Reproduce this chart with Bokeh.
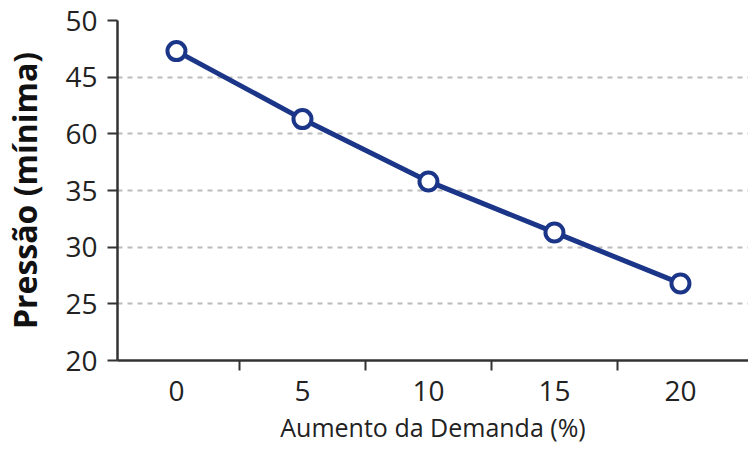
from bokeh.plotting import figure
from bokeh.models import FixedTicker, Range1d
from bokeh.embed import file_html
from bokeh.resources import INLINE

demanda = [0, 5, 10, 15, 20]
pressao = [47.3, 41.3, 35.8, 31.3, 26.8]
y_ticks = [20, 25, 30, 35, 40, 45, 50]
y_labels = {40: "60"}
x_minor = [2.5, 7.5, 12.5, 17.5]

NAVY = "#1b3688"
FONT = "Open Sans"

p = figure(width=748, height=446, output_backend="svg", toolbar_location=None,
           x_range=Range1d(-2.34, 22.7), y_range=Range1d(20, 50),
           min_border_left=107, min_border_right=0, min_border_top=20, min_border_bottom=0)
p.outline_line_color = None

p.line(demanda, pressao, line_color=NAVY, line_width=5)
p.scatter(demanda, pressao, size=18, fill_color="white", line_color=NAVY, line_width=4)

p.xaxis.ticker = FixedTicker(ticks=demanda, minor_ticks=x_minor)
p.xaxis.major_tick_out = 0
p.xaxis.major_tick_in = 0
p.xaxis.minor_tick_out = 10
p.xaxis.minor_tick_in = 0
p.xaxis.minor_tick_line_color = "#333333"
p.xaxis.minor_tick_line_width = 2
p.xaxis.axis_label = "Aumento da Demanda (%)"
p.xaxis.axis_label_text_font = FONT
p.xaxis.axis_label_text_font_style = "normal"
p.xaxis.axis_label_text_font_size = "25px"
p.xaxis.axis_label_text_baseline = "alphabetic"
p.xaxis.axis_label_text_color = "#222222"
p.xaxis.axis_label_standoff = 6
p.xaxis.major_label_text_font = FONT
p.xaxis.major_label_text_font_size = "28px"
p.xaxis.major_label_text_color = "#222222"
p.xaxis.major_label_standoff = 10

p.yaxis.ticker = FixedTicker(ticks=y_ticks)
p.yaxis.major_label_overrides = {k: v for k, v in y_labels.items()}
p.yaxis.major_tick_out = 10
p.yaxis.major_tick_in = 0
p.yaxis.minor_tick_out = 0
p.yaxis.minor_tick_in = 0
p.yaxis.major_tick_line_color = "#333333"
p.yaxis.major_tick_line_width = 2
p.yaxis.axis_label = "Pressão (mínima)"
p.yaxis.axis_label_text_font = FONT
p.yaxis.axis_label_text_font_style = "bold"
p.yaxis.axis_label_text_font_size = "32px"
p.yaxis.axis_label_text_color = "#111111"
p.yaxis.axis_label_standoff = 16
p.yaxis.major_label_text_font = FONT
p.yaxis.major_label_text_font_size = "28px"
p.yaxis.major_label_text_color = "#222222"
p.yaxis.major_label_standoff = 10

for ax in (p.xaxis, p.yaxis):
    ax.axis_line_color = "#333333"
    ax.axis_line_width = 2.5

p.xgrid.grid_line_color = None
p.ygrid.grid_line_color = "#bbbbbb"
p.ygrid.grid_line_dash = "5 5"
p.ygrid.grid_line_width = 2

open("out.html", "w").write(file_html(p, INLINE))
